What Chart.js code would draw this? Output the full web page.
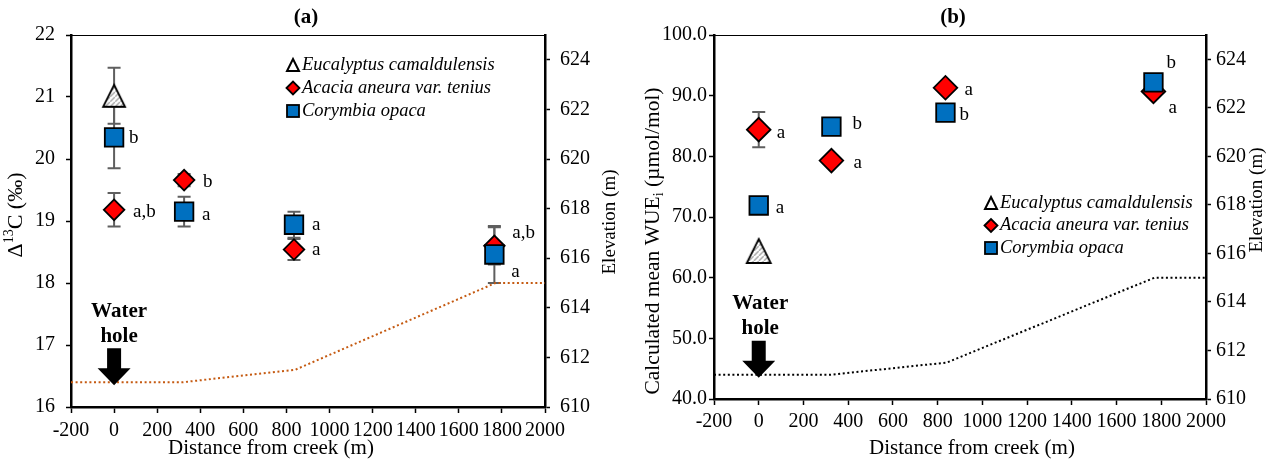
<!DOCTYPE html>
<html>
<head>
<meta charset="utf-8">
<script src="https://cdn.jsdelivr.net/npm/chart.js@4.4.1/dist/chart.umd.min.js"></script>
<style>
  body { margin: 0; background: #fff; }
  #wrap { position: relative; width: 1267px; height: 464px; }
  .panel { position: absolute; top: 0; height: 464px; }
</style>
</head>
<body>
<div id="wrap">
  <div class="panel" style="left:0;width:630px"><canvas id="chartA" width="630" height="464"></canvas></div>
  <div class="panel" style="left:630px;width:637px"><canvas id="chartB" width="637" height="464"></canvas></div>
</div>
<script>
// ---- data ----
const xTicks = [-200, 0, 200, 400, 600, 800, 1000, 1200, 1400, 1600, 1800, 2000];
const d13cTicks = [16, 17, 18, 19, 20, 21, 22];
const wueTicks = [40, 50, 60, 70, 80, 90, 100];
const elevTicks = [610, 612, 614, 616, 618, 620, 622, 624];

const species = ['Eucalyptus camaldulensis', 'Acacia aneura var. tenius', 'Corymbia opaca'];

const siteDistance = [0, 325, 835, 1765];
const eucDistance = [0];

// elevation profile (right axis)
const elevDistance = [-200, 0, 320, 840, 1770, 2000];
const elevation = [611, 611, 611, 611.5, 615, 615];

// panel (a) delta 13C
const d13cEuc = [21.02];
const d13cEucErr = [0.45];
const d13cAca = [19.18, 19.66, 18.54, 18.6];
const d13cAcaErr = [0.27, 0.1, 0.17, 0.3];
const d13cCor = [20.35, 19.15, 18.94, 18.46];
const d13cCorErr = [0.5, 0.24, 0.21, 0.46];
const d13cAcaLetters = ['a,b', 'b', 'a', 'a,b'];
const d13cCorLetters = ['b', 'a', 'a', 'a'];

// panel (b) WUEi
const wueEuc = [64.4];
const wueEucErr = [0];
const wueAca = [84.4, 79.3, 91.3, 90.7];
const wueAcaErr = [2.9, 0, 0, 0];
const wueCor = [71.9, 84.9, 87.2, 92.2];
const wueCorErr = [0, 0, 0, 0];
const wueAcaLetters = ['a', 'a', 'a', 'a'];
const wueCorLetters = ['a', 'b', 'b', 'b'];

const FONT = "'Times New Roman', 'Liberation Serif', serif";

function pts(xs, ys) {
    return xs.map((x, i) => ({ x: x, y: ys[i] }));
}

// hatched triangle marker, centred on its bounding box like Excel does
function triangleMarker(size, hatch) {
    const pad = 3;
    const c = document.createElement('canvas');
    c.width = size + pad * 2;
    c.height = size + pad * 2;
    const g = c.getContext('2d');
    if (hatch) {
        const p = document.createElement('canvas');
        p.width = 5; p.height = 5;
        const pg = p.getContext('2d');
        pg.fillStyle = '#ffffff';
        pg.fillRect(0, 0, 5, 5);
        pg.strokeStyle = '#a6a6a6';
        pg.lineWidth = 1.4;
        pg.beginPath(); pg.moveTo(0, 5); pg.lineTo(5, 0); pg.stroke();
        g.fillStyle = g.createPattern(p, 'repeat');
    } else {
        g.fillStyle = '#fff';
    }
    g.beginPath();
    g.moveTo(pad + size / 2, pad);
    g.lineTo(pad + size, pad + size);
    g.lineTo(pad, pad + size);
    g.closePath();
    g.fill();
    g.lineWidth = hatch ? 1.8 : 2;
    g.strokeStyle = '#000';
    g.stroke();
    return c;
}

function drawRich(ctx, parts, cx, cy, rot) {
    ctx.save();
    ctx.translate(cx, cy);
    ctx.rotate(rot);
    let total = 0;
    parts.forEach(p => {
        ctx.font = (p.style || '') + ' ' + p.size + 'px ' + FONT;
        p.w = ctx.measureText(p.text).width;
        total += p.w;
    });
    let x = -total / 2;
    ctx.fillStyle = '#000';
    ctx.textAlign = 'left';
    ctx.textBaseline = 'alphabetic';
    parts.forEach(p => {
        ctx.font = (p.style || '') + ' ' + p.size + 'px ' + FONT;
        ctx.fillText(p.text, x, 7 + (p.dy || 0));
        x += p.w;
    });
    ctx.restore();
}

function makeDecor(cfg) {
    return {
        id: 'decor',
        beforeDatasetsDraw(chart) {
            // error bars under the markers
            const ctx = chart.ctx;
            ctx.save();
            ctx.strokeStyle = '#5f5f5f';
            ctx.lineWidth = 2;
            chart.data.datasets.forEach(ds => {
                if (!ds.errors) return;
                const ys = chart.scales[ds.yAxisID || 'y'];
                ds.data.forEach((p, j) => {
                    const e = ds.errors[j];
                    if (!e) return;
                    const x = chart.scales.x.getPixelForValue(p.x);
                    const y1 = ys.getPixelForValue(p.y - e);
                    const y2 = ys.getPixelForValue(p.y + e);
                    ctx.beginPath();
                    ctx.moveTo(x, y1); ctx.lineTo(x, y2);
                    ctx.moveTo(x - 6.5, y1); ctx.lineTo(x + 6.5, y1);
                    ctx.moveTo(x - 6.5, y2); ctx.lineTo(x + 6.5, y2);
                    ctx.stroke();
                });
            });
            ctx.restore();
        },
        afterDatasetsDraw(chart) {
            const ctx = chart.ctx;
            const area = chart.chartArea;
            ctx.save();
            // significance letters
            ctx.fillStyle = '#000';
            ctx.font = '19px ' + FONT;
            ctx.textAlign = 'left';
            ctx.textBaseline = 'middle';
            chart.data.datasets.forEach(ds => {
                if (!ds.letters) return;
                const ys = chart.scales[ds.yAxisID || 'y'];
                ds.data.forEach((p, j) => {
                    const x = chart.scales.x.getPixelForValue(p.x);
                    const y = ys.getPixelForValue(p.y);
                    const off = ds.offsets[j];
                    ctx.fillText(ds.letters[j], x + off[0], y + off[1]);
                });
            });

            // water hole arrow
            const ax = chart.scales.x.getPixelForValue(0);
            const tip = chart.scales.y2.getPixelForValue(elevation[1]) + 3;
            ctx.fillStyle = '#000';
            ctx.beginPath();
            ctx.moveTo(ax - 7, tip - 37);
            ctx.lineTo(ax + 7, tip - 37);
            ctx.lineTo(ax + 7, tip - 17);
            ctx.lineTo(ax + 16.5, tip - 17);
            ctx.lineTo(ax, tip);
            ctx.lineTo(ax - 16.5, tip - 17);
            ctx.lineTo(ax - 7, tip - 17);
            ctx.closePath();
            ctx.fill();
            ctx.font = 'bold 21px ' + FONT;
            ctx.textAlign = 'center';
            ctx.fillText('Water', ax + cfg.waterDx, tip - 74);
            ctx.fillText('hole', ax + cfg.waterDx, tip - 49);

            // legend inside the plot
            const lx = area.left + cfg.legendX;
            chart.data.datasets.slice(0, 3).forEach((ds, i) => {
                const ly = area.top + cfg.legendY + cfg.legendDy * i;
                const name = species[i];
                ctx.save();
                ctx.lineWidth = 1.8;
                ctx.strokeStyle = '#000';
                if (i === 0) {
                    ctx.drawImage(legendTri, lx - legendTri.width / 2, ly - legendTri.height / 2);
                } else if (i === 1) {
                    ctx.fillStyle = '#ff0000';
                    ctx.beginPath();
                    ctx.moveTo(lx - 6.5, ly); ctx.lineTo(lx, ly - 6.5);
                    ctx.lineTo(lx + 6.5, ly); ctx.lineTo(lx, ly + 6.5);
                    ctx.closePath(); ctx.fill(); ctx.stroke();
                } else {
                    ctx.fillStyle = '#0070c0';
                    ctx.fillRect(lx - 6, ly - 6, 12, 12);
                    ctx.strokeRect(lx - 6, ly - 6, 12, 12);
                }
                ctx.restore();
                ctx.fillStyle = '#000';
                ctx.font = 'italic 18.5px ' + FONT;
                ctx.textAlign = 'left';
                ctx.textBaseline = 'middle';
                ctx.fillText(name, lx + 9, ly);
            });
            ctx.restore();
        },
        afterDraw(chart) {
            const ctx = chart.ctx;
            const area = chart.chartArea;
            ctx.save();
            // thin top frame line
            ctx.strokeStyle = '#000';
            ctx.lineWidth = 1.2;
            ctx.beginPath();
            ctx.moveTo(area.left, area.top + 0.5);
            ctx.lineTo(area.right, area.top + 0.5);
            ctx.stroke();
            // panel title
            ctx.fillStyle = '#000';
            ctx.font = 'bold 21px ' + FONT;
            ctx.textAlign = 'center';
            ctx.textBaseline = 'middle';
            ctx.fillText(cfg.title, cfg.titleX, 18);
            ctx.restore();
            // axis titles
            drawRich(ctx, cfg.yTitle, cfg.yTitlePos[0], cfg.yTitlePos[1], -Math.PI / 2);
            drawRich(ctx, [{ text: 'Elevation (m)', size: 19 }], cfg.y2TitlePos[0], cfg.y2TitlePos[1], -Math.PI / 2);
            drawRich(ctx, [{ text: 'Distance from creek (m)', size: 21 }], cfg.xTitlePos[0], cfg.xTitlePos[1], 0);
        }
    };
}

const legendTri = triangleMarker(12, false);

function buildChart(cfg) {
    const tickFont = { family: FONT, size: 20 };
    return new Chart(document.getElementById(cfg.canvas), {
        type: 'scatter',
        data: {
            datasets: [
                {
                    label: species[0],
                    data: pts(eucDistance, cfg.euc),
                    errors: cfg.eucErr,
                    pointStyle: triangleMarker(cfg.triSize, true),
                    pointRadius: 12,
                    yAxisID: 'y'
                },
                {
                    label: species[2],
                    data: pts(siteDistance, cfg.cor),
                    errors: cfg.corErr,
                    letters: cfg.corLetters,
                    offsets: cfg.corOffsets,
                    pointStyle: 'rect',
                    pointRadius: 13.1,
                    backgroundColor: '#0070c0',
                    borderColor: '#000',
                    borderWidth: 1.8,
                    yAxisID: 'y'
                },
                {
                    label: species[1],
                    data: pts(siteDistance, cfg.aca),
                    errors: cfg.acaErr,
                    letters: cfg.acaLetters,
                    offsets: cfg.acaOffsets,
                    pointStyle: 'rectRot',
                    pointRadius: cfg.diaR,
                    backgroundColor: '#ff0000',
                    borderColor: '#000',
                    borderWidth: 1.8,
                    yAxisID: 'y'
                },
                {
                    label: 'Elevation',
                    data: pts(elevDistance, elevation),
                    yAxisID: 'y2',
                    showLine: true,
                    pointRadius: 0,
                    borderColor: cfg.elevColor,
                    borderWidth: 2,
                    borderDash: [2, 2.6],
                    fill: false
                }
            ]
        },
        options: {
            responsive: false,
            animation: false,
            events: [],
            layout: { padding: { top: 35, left: 0, right: 0, bottom: 0 } },
            plugins: { legend: { display: false }, tooltip: { enabled: false }, title: { display: false } },
            scales: {
                x: {
                    type: 'linear',
                    min: -200,
                    max: 2000,
                    afterBuildTicks: s => { s.ticks = xTicks.map(v => ({ value: v })); },
                    afterFit: s => { s.height = cfg.xH; },
                    ticks: { font: tickFont, color: '#000', padding: cfg.xPad, maxRotation: 0, autoSkip: false, callback: v => String(v) },
                    grid: { drawOnChartArea: false, tickLength: 6, color: '#000', tickWidth: 1.5 },
                    border: { color: '#000', width: 2.5 }
                },
                y: {
                    type: 'linear',
                    position: 'left',
                    min: cfg.yTicks[0],
                    max: cfg.yTicks[cfg.yTicks.length - 1],
                    afterBuildTicks: s => { s.ticks = cfg.yTicks.map(v => ({ value: v })); },
                    afterFit: s => { s.width = cfg.leftW; },
                    ticks: { font: tickFont, color: '#000', padding: cfg.leftPad, callback: cfg.yFmt },
                    grid: { drawOnChartArea: false, tickLength: 5, color: '#000', tickWidth: 1.5 },
                    border: { color: '#000', width: 2.5 }
                },
                y2: {
                    type: 'linear',
                    position: 'right',
                    min: 610,
                    max: 625,
                    afterBuildTicks: s => { s.ticks = elevTicks.map(v => ({ value: v })); },
                    afterFit: s => { s.width = cfg.rightW; },
                    ticks: { font: tickFont, color: '#000', padding: cfg.rightPad, callback: v => String(v) },
                    grid: { drawOnChartArea: false, tickLength: 5, color: '#000', tickWidth: 1.5 },
                    border: { color: '#000', width: 2.5 }
                }
            }
        },
        plugins: [makeDecor(cfg)]
    });
}

buildChart({
    canvas: 'chartA',
    euc: d13cEuc, eucErr: d13cEucErr,
    aca: d13cAca, acaErr: d13cAcaErr, acaLetters: d13cAcaLetters,
    cor: d13cCor, corErr: d13cCorErr, corLetters: d13cCorLetters,
    acaOffsets: [[19, 2], [19, 2], [18, 0], [18, -13]],
    corOffsets: [[15, 1], [18, 3], [18, 0], [17, 18]],
    yTicks: d13cTicks, yFmt: v => String(v),
    leftW: 71, rightW: 85, xH: 57, leftPad: 11, rightPad: 10, xPad: 6,
    elevColor: '#c55a11',
    triSize: 22, diaR: 10.3,
    legendX: 222, legendY: 30, legendDy: 23,
    waterDx: 5,
    title: '(a)', titleX: 306,
    yTitle: [{ text: 'Δ', size: 22 }, { text: '13', size: 14, dy: -9 }, { text: 'C (‰)', size: 22 }],
    yTitlePos: [15, 215],
    y2TitlePos: [608, 222],
    xTitlePos: [271, 447]
});

buildChart({
    canvas: 'chartB',
    euc: wueEuc, eucErr: wueEucErr,
    aca: wueAca, acaErr: wueAcaErr, acaLetters: wueAcaLetters,
    cor: wueCor, corErr: wueCorErr, corLetters: wueCorLetters,
    acaOffsets: [[18, 3], [22, 2], [19, 2], [15, 17]],
    corOffsets: [[17, 3], [21, -3], [14, 2], [13, -19]],
    yTicks: wueTicks, yFmt: v => v.toFixed(1),
    leftW: 84, rightW: 61, xH: 65, leftPad: 2, rightPad: 5, xPad: 5,
    elevColor: '#000',
    triSize: 24, diaR: 11.8,
    legendX: 277, legendY: 168, legendDy: 22.5,
    waterDx: 1.5,
    title: '(b)', titleX: 323,
    yTitle: [{ text: 'Calculated mean WUE', size: 21.5 }, { text: 'i', size: 14, dy: 4 }, { text: ' (µmol/mol)', size: 21.5 }],
    yTitlePos: [22, 241],
    y2TitlePos: [625, 200],
    xTitlePos: [342, 447]
});
</script>
</body>
</html>
